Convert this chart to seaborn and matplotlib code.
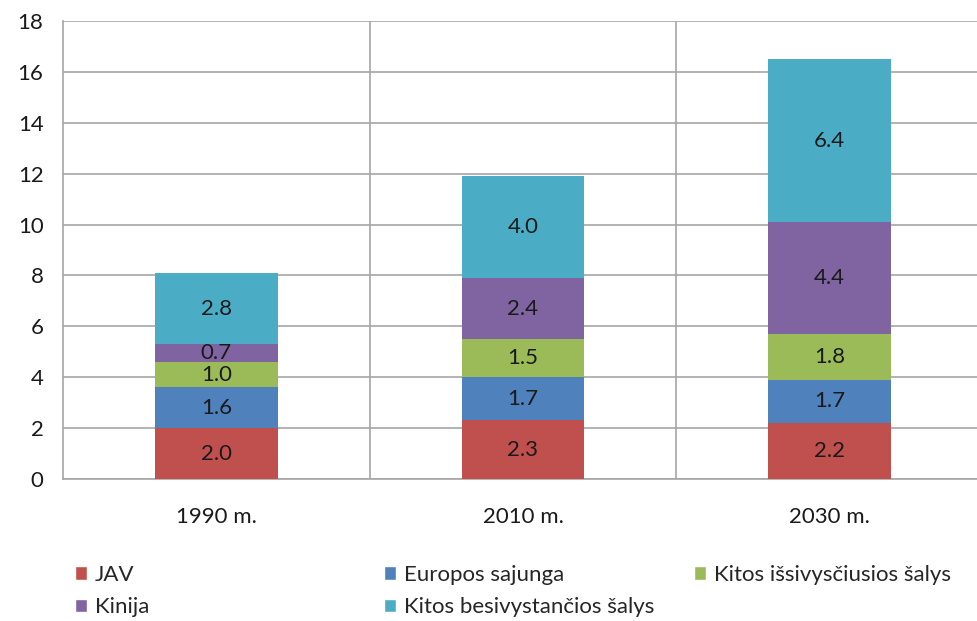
import numpy as np
import pandas as pd
import matplotlib.pyplot as plt
import seaborn as sns
from matplotlib.patches import Patch
from matplotlib.ticker import FixedLocator

# Data
years = ['1990 m.', '2010 m.', '2030 m.']
series = ['JAV', 'Europos sajunga', 'Kitos išsivysčiusios šalys', 'Kinija',
          'Kitos besivystančios šalys']
jav = [2.0, 2.3, 2.2]
es = [1.6, 1.7, 1.7]
kitos_issiv = [1.0, 1.5, 1.8]
kinija = [0.7, 2.4, 4.4]
kitos_besiv = [2.8, 4.0, 6.4]
colors = ['#C0504D', '#4F81BD', '#9BBB59', '#8064A2', '#4BACC6']

values = np.array([jav, es, kitos_issiv, kinija, kitos_besiv])
cum = values.cumsum(axis=0)

sns.set_style('white')
plt.rcParams['font.family'] = ['Lato', 'DejaVu Sans']
FS = 16

fig = plt.figure(figsize=(9.77, 6.21), dpi=100)
ax = fig.add_axes([63 / 977, 1 - 479 / 621, 920 / 977, 458 / 621])

# stacked bars: draw cumulative totals from the top layer down
for i in range(len(series) - 1, -1, -1):
    df = pd.DataFrame({'year': years, 'val': cum[i]})
    sns.barplot(data=df, x='year', y='val', color=colors[i], width=0.4,
                saturation=1, linewidth=0, ax=ax, zorder=3)

# value labels in the middle of each segment
for i in range(len(series)):
    for j in range(len(years)):
        mid = cum[i, j] - values[i, j] / 2
        ax.text(j, mid, f'{values[i, j]:.1f}', ha='center', va='center',
                fontsize=FS, color='#1a1a1a', zorder=4)

ax.set_ylim(0, 18)
ax.set_xlim(-0.5, 2.5)
ax.set_yticks(range(0, 19, 2))
ax.xaxis.set_minor_locator(FixedLocator([0.5, 1.5]))
ax.grid(axis='y', which='major', color='#A6A6A6', linewidth=1.2, zorder=0)
ax.grid(axis='x', which='minor', color='#A6A6A6', linewidth=1.2, zorder=0)
ax.set_axisbelow(True)
ax.set_xlabel('')
ax.set_ylabel('')
ax.tick_params(axis='both', which='both', length=0, labelsize=FS,
               colors='#1a1a1a')
ax.tick_params(axis='y', pad=14)
ax.tick_params(axis='x', pad=20)
for side in ['top', 'right']:
    ax.spines[side].set_visible(False)
for side in ['left', 'bottom']:
    ax.spines[side].set_color('#A6A6A6')
    ax.spines[side].set_linewidth(1.2)

# legend: three columns placed like the original
handles = [Patch(facecolor=c, label=s) for c, s in zip(colors, series)]
columns = [[0, 3], [1, 4], [2]]
col_x = [75, 384, 694]
for idx, x in zip(columns, col_x):
    leg = fig.legend([handles[k] for k in idx], [series[k] for k in idx],
                     loc='upper left', bbox_to_anchor=(x / 977, 1 - 565 / 621),
                     frameon=False, fontsize=FS, handlelength=0.55,
                     handleheight=0.55, handletextpad=0.35, labelspacing=0.55,
                     borderaxespad=0, borderpad=0)

fig.savefig('out.png', dpi=100)
